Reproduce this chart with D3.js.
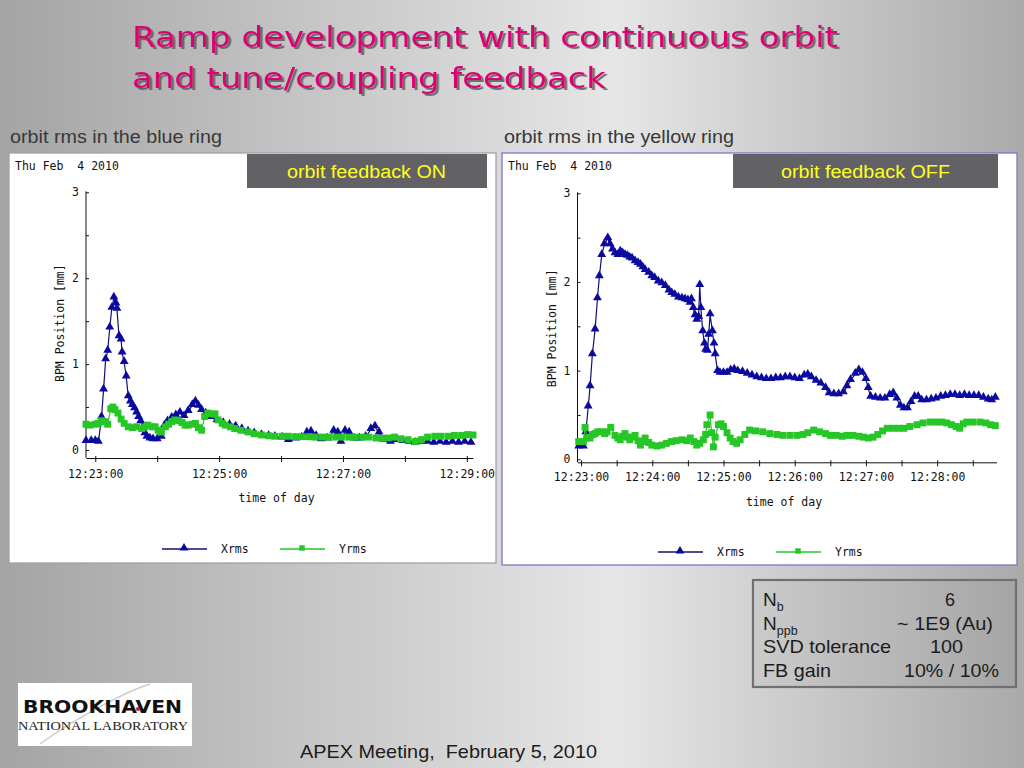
<!DOCTYPE html>
<html>
<head>
<meta charset="utf-8">
<script src="https://cdn.jsdelivr.net/npm/d3@7"></script>
<style>
  body { margin: 0; background: #c8c8c8; }
  svg { display: block; }
</style>
</head>
<body>
<div id="slide"></div>
<script>
// data: [seconds after 12:23:00, mm]
var blueRingXrms = [[-9,0.10],[-4,0.10],[0,0.10],[3,0.09],[6,0.38],[8,0.70],[10,1.05],[12,1.15],[14,1.42],[16,1.65],[18,1.77],[20,1.70],[21,1.64],[23,1.32],[25,1.28],[26,1.13],[28,1.02],[30,0.85],[32,0.62],[34,0.56],[36,0.52],[38,0.48],[40,0.43],[42,0.38],[44,0.33],[46,0.26],[48,0.19],[50,0.15],[53,0.13],[56,0.12],[60,0.12],[64,0.15],[67,0.28],[70,0.33],[74,0.37],[78,0.40],[82,0.43],[86,0.39],[90,0.45],[94,0.52],[97,0.56],[100,0.51],[103,0.46],[107,0.42],[112,0.38],[118,0.34],[124,0.31],[130,0.29],[136,0.27],[142,0.24],[148,0.21],[154,0.19],[161,0.17],[168,0.16],[174,0.15],[181,0.14],[187,0.11],[194,0.13],[200,0.14],[205,0.20],[209,0.21],[214,0.16],[219,0.12],[225,0.13],[231,0.22],[235,0.20],[238,0.09],[242,0.22],[246,0.20],[251,0.13],[256,0.13],[262,0.15],[267,0.24],[271,0.27],[275,0.20],[280,0.11],[286,0.09],[292,0.11],[298,0.10],[304,0.09],[310,0.08],[316,0.09],[322,0.09],[328,0.08],[334,0.09],[340,0.08],[346,0.09],[352,0.08],[358,0.09],[364,0.08]];
var blueRingYrms = [[-9,0.30],[-5,0.29],[0,0.30],[3,0.31],[6,0.34],[9,0.33],[12,0.30],[15,0.48],[17,0.50],[19,0.47],[22,0.43],[25,0.36],[28,0.31],[32,0.27],[36,0.26],[40,0.27],[45,0.25],[48,0.27],[51,0.29],[55,0.27],[58,0.27],[61,0.23],[64,0.21],[68,0.27],[71,0.30],[74,0.33],[77,0.35],[81,0.34],[84,0.32],[87,0.29],[90,0.29],[94,0.30],[97,0.31],[100,0.26],[103,0.23],[106,0.39],[109,0.43],[112,0.42],[116,0.42],[119,0.35],[123,0.31],[126,0.29],[131,0.27],[135,0.25],[141,0.23],[148,0.21],[154,0.19],[161,0.175],[168,0.165],[174,0.16],[181,0.16],[187,0.16],[194,0.155],[200,0.155],[207,0.155],[213,0.15],[220,0.15],[226,0.15],[233,0.15],[239,0.15],[246,0.15],[252,0.15],[259,0.15],[265,0.15],[272,0.14],[278,0.135],[284,0.14],[290,0.15],[296,0.13],[303,0.12],[310,0.10],[316,0.12],[322,0.15],[329,0.16],[335,0.16],[342,0.16],[348,0.17],[355,0.17],[361,0.18],[366,0.175]];
var yellowRingXrms = [[-2,0.14],[2,0.14],[4,0.30],[6,0.59],[7.6,0.82],[9.5,1.18],[11.8,1.46],[13.8,1.81],[15.4,2.06],[17.4,2.30],[19.6,2.42],[22.5,2.49],[24.4,2.42],[26.5,2.36],[28.6,2.32],[31,2.30],[33,2.34],[35,2.32],[37,2.30],[39,2.29],[41,2.27],[43,2.26],[45.5,2.23],[48,2.21],[50,2.19],[52,2.16],[54,2.13],[57,2.10],[59.6,2.06],[62,2.04],[65,2.00],[68,1.98],[71,1.95],[74,1.90],[76.4,1.87],[79,1.85],[82,1.82],[85,1.81],[87.6,1.80],[90,1.79],[91.8,1.76],[93,1.80],[94.6,1.70],[96,1.62],[97.5,1.57],[99,1.60],[100,1.96],[101,1.70],[102.5,1.44],[104,1.30],[105,1.23],[106.5,1.22],[107.5,1.40],[108.7,1.63],[110.7,1.44],[112,1.30],[113,1.18],[115,0.99],[117,0.97],[120,0.97],[123,0.97],[126,1.00],[129,1.01],[132,0.99],[136,0.98],[140,0.96],[144,0.94],[148,0.92],[152,0.91],[156,0.90],[160,0.90],[164,0.91],[168,0.91],[172,0.92],[176,0.92],[180,0.91],[184,0.90],[188,0.94],[191,0.95],[194,0.92],[198,0.88],[202,0.85],[206,0.80],[209,0.74],[213,0.73],[217,0.73],[221,0.75],[224,0.82],[227,0.89],[231,0.96],[234,1.00],[237,0.97],[240,0.90],[242,0.80],[244,0.70],[248,0.69],[252,0.68],[256,0.68],[260,0.72],[263,0.74],[266,0.68],[269,0.60],[272,0.57],[275,0.57],[278,0.64],[281,0.70],[284,0.70],[287,0.66],[291,0.66],[295,0.67],[299,0.68],[303,0.70],[307,0.71],[311,0.72],[315,0.72],[319,0.71],[323,0.72],[327,0.71],[331,0.71],[335,0.71],[339,0.69],[343,0.67],[346,0.66],[349,0.69]];
var yellowRingYrms = [[-2,0.20],[2,0.20],[3.4,0.36],[5,0.24],[7.6,0.24],[10,0.28],[11.8,0.29],[14,0.31],[17.4,0.31],[20,0.29],[22,0.31],[25,0.36],[28.6,0.27],[31,0.24],[33,0.22],[35,0.26],[37,0.29],[39,0.25],[41,0.22],[43,0.25],[45.5,0.27],[48,0.21],[50,0.16],[52,0.20],[54,0.24],[57,0.19],[59.6,0.16],[64,0.15],[68,0.16],[72,0.18],[76,0.20],[80,0.21],[85,0.22],[89,0.21],[92,0.24],[95,0.20],[97.5,0.16],[100,0.18],[103,0.22],[105,0.28],[106,0.39],[108.7,0.50],[110,0.30],[111.5,0.14],[113,0.25],[115.7,0.39],[118,0.40],[120,0.37],[123,0.30],[125.6,0.24],[128,0.20],[131,0.18],[134,0.22],[138,0.28],[142,0.33],[147,0.32],[153,0.31],[159,0.29],[165,0.28],[170,0.27],[176,0.27],[182,0.27],[187,0.28],[191,0.30],[196,0.33],[201,0.31],[206,0.29],[210,0.27],[215,0.27],[220,0.26],[224,0.27],[229,0.27],[234,0.26],[238,0.25],[242,0.24],[246,0.25],[250,0.28],[254,0.32],[258,0.35],[263,0.35],[268,0.35],[272,0.35],[277,0.37],[283,0.39],[288,0.41],[294,0.42],[299,0.42],[304,0.42],[308,0.41],[312,0.39],[316,0.37],[319,0.35],[322,0.40],[325,0.42],[330,0.42],[336,0.42],[341,0.41],[345,0.39],[349,0.38]];

var yTickValues = [0, 0.5, 1, 1.5, 2, 2.5, 3];
var seriesNames = ["Xrms", "Yrms"];
var infoLabels = [["N", "b"], ["N", "ppb"], ["SVD tolerance", ""], ["FB gain", ""]];
var infoValues = ["6", "~ 1E9 (Au)", "100", "10% / 10%"];

var t0 = new Date(2010, 1, 4, 12, 23, 0);
function toDate(s) { return new Date(t0.getTime() + s * 1000); }

var W = 1024, H = 768;
var svg = d3.select("#slide").append("svg").attr("width", W).attr("height", H);

// slide background
var defs = svg.append("defs");
var grad = defs.append("linearGradient").attr("id", "bg").attr("x1", "0").attr("x2", "1").attr("y1", "0").attr("y2", "0");
grad.append("stop").attr("offset", "0").attr("stop-color", "#a4a4a4");
grad.append("stop").attr("offset", "0.6").attr("stop-color", "#e6e6e6");
grad.append("stop").attr("offset", "1").attr("stop-color", "#aaaaaa");
svg.append("rect").attr("width", W).attr("height", H).attr("fill", "url(#bg)");

defs.append("filter").attr("id", "shadow").attr("x", "-5%").attr("y", "-20%").attr("width", "110%").attr("height", "150%")
  .append("feDropShadow").attr("dx", 2.5).attr("dy", 2).attr("stdDeviation", 0.5)
  .attr("flood-color", "#555").attr("flood-opacity", 0.8);

function stretched(sel, len) {
  return sel.attr("textLength", len).attr("lengthAdjust", "spacingAndGlyphs");
}

// title (the slide text is stretched sideways)
var titleLines = [["Ramp development with continuous orbit", 706], ["and tune/coupling feedback", 474]];
titleLines.forEach(function(line, i) {
  stretched(svg.append("text").attr("x", 132).attr("y", 47 + i * 41), line[1])
      .attr("fill", "#dc0074").attr("filter", "url(#shadow)")
      .style("font", "29px 'DejaVu Sans'").text(line[0]);
});

var mono = "11.5px 'DejaVu Sans Mono'";
var blueMark = "#0a0aa0", blueLine = "#121270", greenMark = "#26c626";

function drawPanel(cfg) {
  stretched(svg.append("text").attr("x", cfg.captionX).attr("y", 143), cfg.captionLen)
      .attr("fill", "#383838").style("font", "18px 'Liberation Sans'").text(cfg.caption);

  svg.append("rect").attr("x", cfg.box[0]).attr("y", cfg.box[1])
      .attr("width", cfg.box[2] - cfg.box[0]).attr("height", cfg.box[3] - cfg.box[1])
      .attr("fill", "#ffffff").attr("stroke", cfg.border).attr("stroke-width", 1.3);

  svg.append("rect").attr("x", cfg.badge[0]).attr("y", 154)
      .attr("width", cfg.badge[1] - cfg.badge[0]).attr("height", 34).attr("fill", "#626266");
  stretched(svg.append("text").attr("x", cfg.badgeTextX).attr("y", 178), cfg.badgeLen)
      .attr("fill", "#ffff1a").style("font", "18px 'Liberation Sans'").text(cfg.badgeText);

  svg.append("text").attr("x", cfg.box[0] + 6).attr("y", 170)
      .attr("fill", "#111").style("font", mono).attr("xml:space", "preserve").text("Thu Feb  4 2010");

  var x = d3.scaleTime().domain([toDate(cfg.tRange[0]), toDate(cfg.tRange[1])]).range(cfg.xRange);
  var y = d3.scaleLinear().domain([0, 3]).range(cfg.yRange);
  var g = svg.append("g");

  // x axis
  var xAxis = d3.axisBottom(x).ticks(cfg.tickEvery).tickSizeOuter(0).tickSizeInner(4)
      .tickFormat(function(d) {
        return cfg.labelIf(d) ? d3.timeFormat("%H:%M:%S")(d) : "";
      });
  var gx = g.append("g").attr("transform", "translate(0," + cfg.axisY + ")").call(xAxis);
  gx.selectAll(".tick line").attr("y1", -2);
  gx.selectAll(".tick text").attr("y", cfg.labelGap).style("font", mono).attr("fill", "#111");

  // y axis
  var yAxis = d3.axisLeft(y).tickValues(yTickValues).tickSizeOuter(0).tickSizeInner(3).tickPadding(4)
      .tickFormat(function(d) { return Number.isInteger(d) ? d : ""; });
  var gy = g.append("g").attr("transform", "translate(" + cfg.xRange[0] + ",0)").call(yAxis);
  gy.select(".domain").attr("d", "M0," + cfg.axisY + "V" + (y(3) - 1));
  gy.selectAll(".tick line").attr("x2", 3);
  gy.selectAll(".tick text").style("font", mono).attr("fill", "#111");
  g.selectAll(".domain, .tick line").attr("stroke", "#111");

  g.append("text").attr("x", (cfg.xRange[0] + cfg.xRange[1]) / 2 - 3).attr("y", cfg.axisY + 44)
      .attr("text-anchor", "middle").style("font", mono).attr("fill", "#111").text("time of day");
  g.append("text").attr("transform", "translate(" + (cfg.xRange[0] - 22) + "," + (y(1.5) + 2) + ") rotate(-90)")
      .attr("text-anchor", "middle").style("font", mono).attr("fill", "#111").text("BPM Position [mm]");

  var line = d3.line().x(function(d) { return x(toDate(d[0])); }).y(function(d) { return y(d[1]); });
  var tri = d3.symbol().type(d3.symbolTriangle).size(34);
  var sq = d3.symbol().type(d3.symbolSquare).size(48);

  g.append("path").datum(cfg.xrms).attr("d", line).attr("fill", "none").attr("stroke", blueLine).attr("stroke-width", 1.2);
  g.selectAll(".xm").data(cfg.xrms).enter().append("path")
      .attr("transform", function(d) { return "translate(" + x(toDate(d[0])) + "," + (y(d[1]) - 1) + ")"; })
      .attr("d", tri).attr("fill", blueMark);

  g.append("path").datum(cfg.yrms).attr("d", line).attr("fill", "none").attr("stroke", greenMark).attr("stroke-width", 1.2);
  g.selectAll(".ym").data(cfg.yrms).enter().append("path")
      .attr("transform", function(d) { return "translate(" + x(toDate(d[0])) + "," + y(d[1]) + ")"; })
      .attr("d", sq).attr("fill", greenMark);

  // legend
  var lg = svg.append("g").attr("transform", "translate(" + cfg.legend[0] + "," + cfg.legend[1] + ")");
  [[blueLine, blueMark, tri], [greenMark, greenMark, d3.symbol().type(d3.symbolSquare).size(30)]].forEach(function(s, i) {
    var ox = i * 118;
    lg.append("line").attr("x1", ox).attr("x2", ox + 45).attr("stroke", s[0]).attr("stroke-width", 1.5);
    lg.append("path").attr("transform", "translate(" + (ox + 22) + ",-1)").attr("d", s[2]).attr("fill", s[1]);
    lg.append("text").attr("x", ox + 59).attr("y", 4).style("font", mono).attr("fill", "#111").text(seriesNames[i]);
  });
}

drawPanel({
  caption: "orbit rms in the blue ring", captionX: 10, captionLen: 212,
  box: [9, 153, 496, 563], border: "#a0a0a8",
  badge: [247, 487], badgeText: "orbit feedback ON", badgeTextX: 287, badgeLen: 159,
  tRange: [-9, 366], xRange: [86, 473], yRange: [450, 192.3], axisY: 458, labelGap: 12,
  tickEvery: d3.timeMinute.every(1),
  labelIf: function(d) { return d.getMinutes() % 2 === 1; },
  xrms: blueRingXrms, yrms: blueRingYrms, legend: [162, 549]
});

drawPanel({
  caption: "orbit rms in the yellow ring", captionX: 504, captionLen: 230,
  box: [502, 153, 1017, 565], border: "#7a78c4",
  badge: [733, 998], badgeText: "orbit feedback OFF", badgeTextX: 781, badgeLen: 169,
  tRange: [-3, 350], xRange: [577.5, 996.5], yRange: [459.3, 193.3], axisY: 462.3, labelGap: 11,
  tickEvery: d3.timeSecond.every(30),
  labelIf: function(d) { return d.getSeconds() === 0; },
  xrms: yellowRingXrms, yrms: yellowRingYrms, legend: [658, 552]
});

// beam parameters box
var infoLabelLen = [null, null, 128, 68];
var infoValueX = [[945, 10], [897, 96], [930, 33], [904, 95]];
svg.append("rect").attr("x", 753).attr("y", 580).attr("width", 263).attr("height", 107)
    .attr("fill", "rgba(0,0,0,0.03)").attr("stroke", "#707070").attr("stroke-width", 2.2);
infoLabels.forEach(function(lab, i) {
  var by = 606 + i * 23.7;
  var t = svg.append("text").attr("x", 763).attr("y", by).attr("fill", "#1c1c1c")
      .style("font", "19px 'Liberation Sans'").text(lab[0]);
  if (infoLabelLen[i]) stretched(t, infoLabelLen[i]);
  if (lab[1]) t.append("tspan").attr("dy", 5).style("font-size", "12.5px").text(lab[1]);
  stretched(svg.append("text").attr("x", infoValueX[i][0]).attr("y", by), infoValueX[i][1])
      .attr("fill", "#1c1c1c").style("font", "19px 'Liberation Sans'").text(infoValues[i]);
});

// lab logo
svg.append("rect").attr("x", 18).attr("y", 683).attr("width", 174).attr("height", 63).attr("fill", "#ffffff");
svg.append("path").attr("d", "M40,744 C80,715 130,690 150,684").attr("fill", "none").attr("stroke", "#cccccc").attr("stroke-width", 1.5);
stretched(svg.append("text").attr("x", 23).attr("y", 713), 159)
    .attr("fill", "#111").style("font", "bold 18px 'DejaVu Sans'").text("BROOKHAVEN");
svg.append("circle").attr("cx", 138).attr("cy", 709).attr("r", 2).attr("fill", "#d01818");
stretched(svg.append("text").attr("x", 18).attr("y", 729.5), 170)
    .attr("fill", "#222").style("font", "11.5px 'Liberation Serif'").text("NATIONAL LABORATORY");

// footer
stretched(svg.append("text").attr("x", 300).attr("y", 758).attr("xml:space", "preserve"), 297)
    .attr("fill", "#1c1c1c").style("font", "18.5px 'Liberation Sans'").text("APEX Meeting,  February 5, 2010");
</script>
</body>
</html>
